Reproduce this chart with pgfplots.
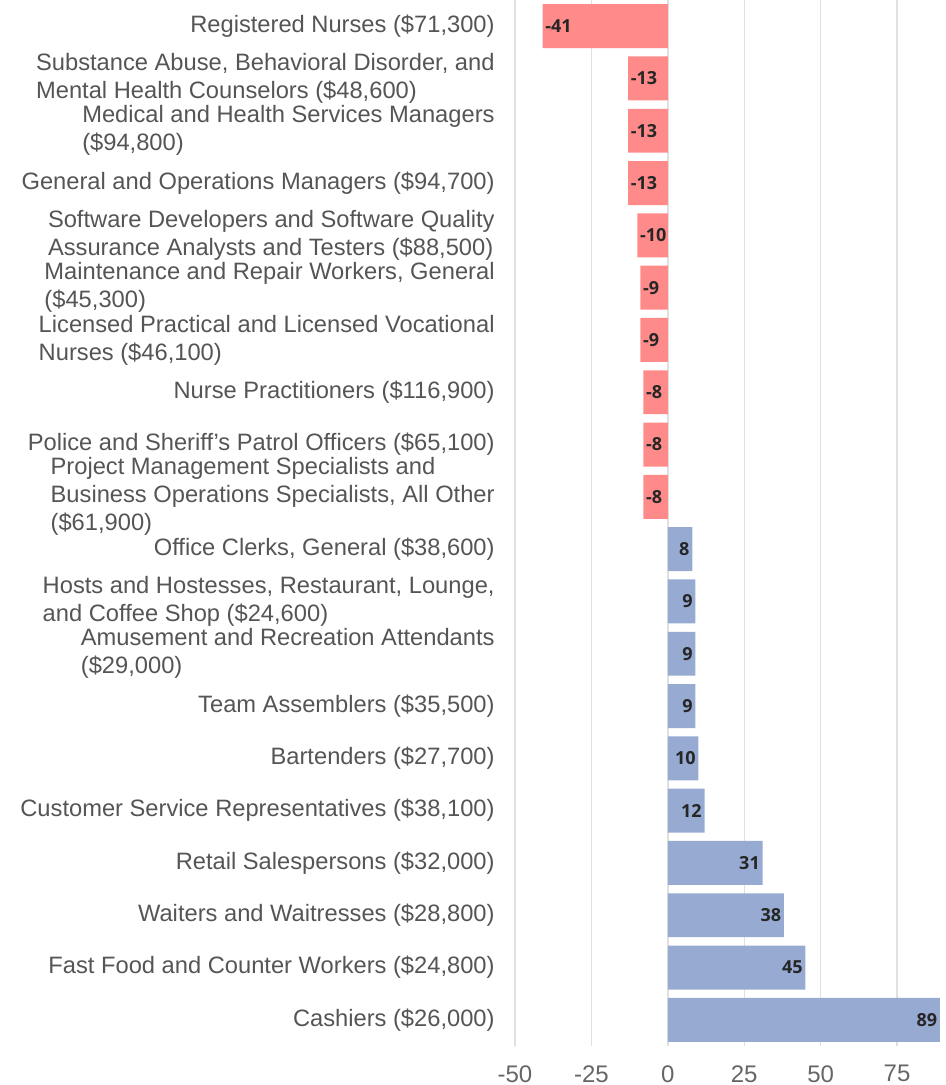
\documentclass[border=0pt]{standalone}
\usepackage{fontspec}
\setmainfont{Liberation Sans}
\newfontfamily\numfont{Open Sans}
\usepackage{pgfplots}
\pgfplotsset{compat=1.18}
\definecolor{negbar}{HTML}{FF8A8A}
\definecolor{posbar}{HTML}{96AAD2}
\definecolor{labgray}{HTML}{555555}
\definecolor{tickgray}{HTML}{666666}
\begin{document}
\begin{tikzpicture}
\begin{axis}[
  scale only axis,
  width=215.5pt, height=523pt,
  xbar, bar width=0.84, bar shift=0pt,
  xmin=-50, xmax=91,
  ymin=-0.5, ymax=19.5, y dir=reverse,
  ytick={0,...,19},
  yticklabels={
    {Registered Nurses (\$71,300)},
    {Substance Abuse, Behavioral Disorder, and\\Mental Health Counselors (\$48,600)},
    {Medical and Health Services Managers\\(\$94,800)},
    {General and Operations Managers (\$94,700)},
    {Software Developers and Software Quality\\Assurance Analysts and Testers (\$88,500)},
    {Maintenance and Repair Workers, General\\(\$45,300)},
    {Licensed Practical and Licensed Vocational\\Nurses (\$46,100)},
    {Nurse Practitioners (\$116,900)},
    {Police and Sheriff’s Patrol Officers (\$65,100)},
    {Project Management Specialists and\\Business Operations Specialists, All Other\\(\$61,900)},
    {Office Clerks, General (\$38,600)},
    {Hosts and Hostesses, Restaurant, Lounge,\\and Coffee Shop (\$24,600)},
    {Amusement and Recreation Attendants\\(\$29,000)},
    {Team Assemblers (\$35,500)},
    {Bartenders (\$27,700)},
    {Customer Service Representatives (\$38,100)},
    {Retail Salespersons (\$32,000)},
    {Waiters and Waitresses (\$28,800)},
    {Fast Food and Counter Workers (\$24,800)},
    {Cashiers (\$26,000)}
  },
  xtick={-50,-25,0,25,50,75},
  xticklabels={-50,-25,0,25,50,75},
  xmajorgrids, grid style={black!12, line width=0.7pt},
  axis line style={draw=none},
  major tick length=0pt,
  yticklabel style={align=left, font=\fontsize{11.85}{14}\selectfont, text=labgray, inner sep=0pt, xshift=-10pt},
  xticklabel style={font=\fontsize{12}{14}\selectfont, text=tickgray, inner sep=0pt, yshift=-9.5pt},
  nodes near coords,
  point meta=explicit symbolic,
  every node near coord/.append style={font=\numfont\bfseries\fontsize{9}{10}\selectfont, text=black!85, inner sep=1.2pt},
  clip=false,
]
% losses
\addplot[draw=none, fill=negbar, every node near coord/.append style={anchor=west}]
  coordinates {
    (-41,0) [-41] (-13,1) [-13] (-13,2) [-13] (-13,3) [-13] (-10,4) [-10]
    (-9,5) [-9] (-9,6) [-9] (-8,7) [-8] (-8,8) [-8] (-8,9) [-8]
  };
% gains
\addplot[draw=none, fill=posbar, every node near coord/.append style={anchor=east}]
  coordinates {
    (8,10) [8] (9,11) [9] (9,12) [9] (9,13) [9] (10,14) [10]
    (12,15) [12] (31,16) [31] (38,17) [38] (45,18) [45] (89,19) [89]
  };
\end{axis}
\pgfresetboundingbox
\path ([shift={(-257.5pt,-19.5pt)}]current axis.south west) rectangle (current axis.north east);
\end{tikzpicture}
\end{document}
